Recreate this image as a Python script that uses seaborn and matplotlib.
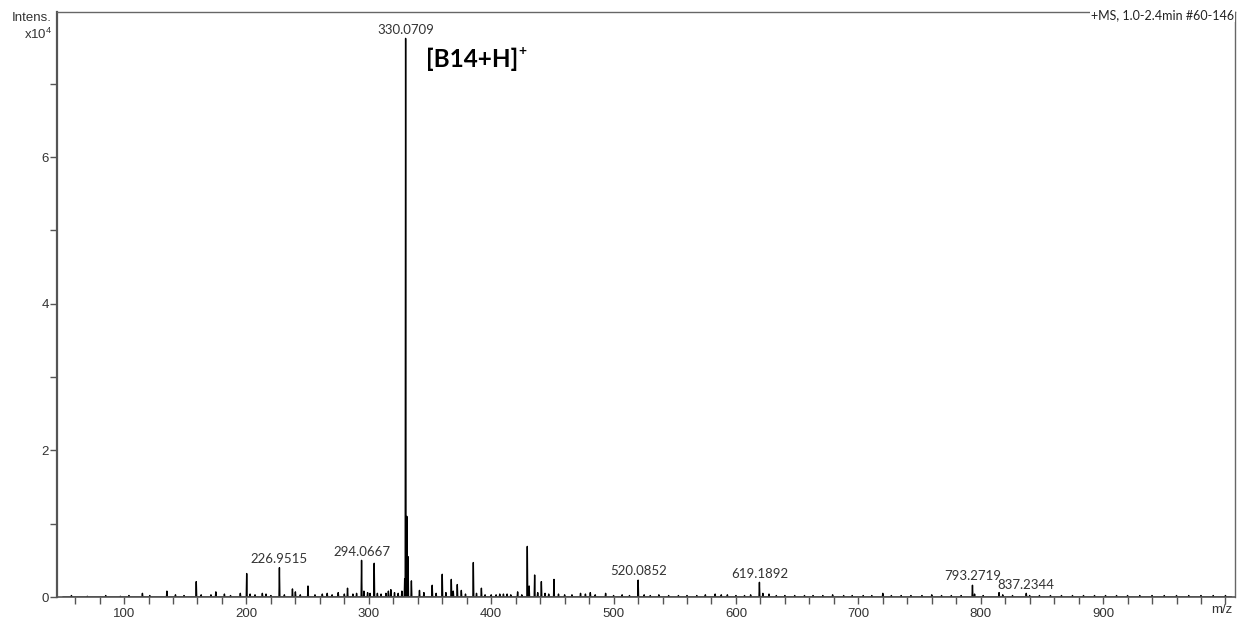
import numpy as np
import pandas as pd
import matplotlib
matplotlib.use("Agg")
import matplotlib.pyplot as plt
from matplotlib.ticker import MultipleLocator, FuncFormatter
import seaborn as sns

sns.set_theme(style="white")
plt.rcParams["font.family"] = ["Liberation Sans", "DejaVu Sans"]
plt.rcParams["mathtext.default"] = "regular"

# Centroided peak list: m/z and intensity (x10^4 counts)
peak_mz = [
    57, 70, 85, 97, 104, 115, 121, 135, 142, 149, 159, 163, 171, 175, 182,
    187, 195, 200.2, 203, 207, 213, 216, 220, 226.9515, 231, 237.6, 240, 244,
    250.3, 256, 262, 266, 270, 275, 280, 282.6, 287, 290, 294.0667, 296, 299,
    301, 304.4, 307, 310, 314, 316, 318, 321, 324, 327, 329.3, 330.0709,
    331.07, 332.07, 334.8, 341.4, 345, 351.8, 355, 360.0, 363, 367.4, 369,
    372.3, 375.6, 379, 385.4, 388, 392.0, 395, 400, 404, 407, 410, 413, 416,
    421.6, 425, 429.5, 431, 435.5, 438, 441.0, 444, 447, 451.3, 455, 460,
    466, 473, 477, 481, 485, 493.5, 500, 507, 513, 520.0852, 525, 530, 537,
    545, 553, 560, 568, 575, 583, 588, 593, 600, 607, 612, 619.1892, 622,
    627, 633, 640, 648, 656, 663, 671, 679, 688, 695, 704, 711, 720, 727,
    735, 743, 752, 760, 768, 776, 784, 793.2719, 795, 802, 815, 818, 826,
    837.2344, 840, 848, 857, 866, 875, 884, 893, 902, 911, 920, 930, 940,
    950, 960, 970, 980, 990, 1000,
]
peak_int = [
    0.02, 0.01, 0.02, 0.01, 0.02, 0.05, 0.02, 0.08, 0.03, 0.02, 0.21, 0.03,
    0.03, 0.07, 0.04, 0.02, 0.05, 0.32, 0.04, 0.03, 0.05, 0.04, 0.02, 0.40,
    0.03, 0.11, 0.07, 0.03, 0.15, 0.03, 0.04, 0.05, 0.03, 0.06, 0.04, 0.12,
    0.04, 0.05, 0.50, 0.08, 0.06, 0.05, 0.46, 0.05, 0.04, 0.05, 0.08, 0.10,
    0.06, 0.05, 0.08, 0.25, 7.62, 1.10, 0.55, 0.22, 0.09, 0.06, 0.16, 0.05,
    0.31, 0.06, 0.24, 0.08, 0.17, 0.09, 0.04, 0.47, 0.05, 0.12, 0.03, 0.03,
    0.03, 0.04, 0.04, 0.04, 0.03, 0.07, 0.03, 0.69, 0.15, 0.30, 0.06, 0.21,
    0.05, 0.04, 0.24, 0.04, 0.03, 0.03, 0.05, 0.04, 0.06, 0.03, 0.05, 0.02,
    0.03, 0.02, 0.23, 0.03, 0.02, 0.03, 0.02, 0.02, 0.02, 0.02, 0.03, 0.04,
    0.03, 0.03, 0.02, 0.02, 0.03, 0.20, 0.05, 0.04, 0.02, 0.02, 0.02, 0.02,
    0.02, 0.02, 0.03, 0.02, 0.02, 0.02, 0.02, 0.05, 0.02, 0.02, 0.02, 0.02,
    0.03, 0.02, 0.02, 0.02, 0.16, 0.04, 0.02, 0.06, 0.03, 0.02, 0.05, 0.02,
    0.02, 0.02, 0.02, 0.02, 0.02, 0.02, 0.02, 0.02, 0.02, 0.02, 0.02, 0.02,
    0.02, 0.02, 0.02, 0.02, 0.02,
]

# Peaks that carry an m/z annotation
label_mz = [226.9515, 294.0667, 330.0709, 520.0852, 619.1892, 793.2719, 837.2344]

ion_label = "[B14+H]"
scan_info = "+MS, 1.0-2.4min #60-146"

# Build the stick trace of the spectrum from the peak list
half_width = 0.35
xs, ys = [50.0], [0.0]
for mz, h in sorted(zip(peak_mz, peak_int)):
    xs += [mz - half_width, mz, mz + half_width]
    ys += [0.0, h, 0.0]
xs.append(1005.0)
ys.append(0.0)
trace = pd.DataFrame({"m/z": xs, "intensity": ys})

W, H = 1241, 620
fig, ax = plt.subplots(figsize=(W / 100, H / 100), dpi=100)
fig.subplots_adjust(left=57 / W, right=1235 / W, bottom=1 - 597 / H, top=1 - 12 / H)

sns.lineplot(data=trace, x="m/z", y="intensity", sort=False, estimator=None,
             color="black", lw=1.0, ax=ax)

ax.set_xlim(45.2, 1007.8)
ax.set_ylim(0, 7.98)
ax.set_xlabel("")
ax.set_ylabel("")

label_color = "#333333"
ax.xaxis.set_major_locator(MultipleLocator(100))
ax.xaxis.set_minor_locator(MultipleLocator(20))
ax.yaxis.set_major_locator(MultipleLocator(2))
ax.yaxis.set_minor_locator(MultipleLocator(1))
ax.xaxis.set_major_formatter(FuncFormatter(
    lambda v, p: f"{v:.0f}" if 100 <= v <= 900 else ""))
ax.tick_params(axis="both", which="both", direction="out", color="#555555",
               width=1.0, labelcolor=label_color, labelsize=9.5)
ax.tick_params(axis="x", which="both", length=5, pad=3, bottom=True)
ax.tick_params(axis="y", which="both", length=5, pad=1, left=True)

for side, lw, col in [("left", 1.6, "#555555"), ("bottom", 1.2, "#555555"),
                      ("top", 1.0, "#666666"), ("right", 1.0, "#666666")]:
    ax.spines[side].set_visible(True)
    ax.spines[side].set_linewidth(lw)
    ax.spines[side].set_color(col)

# m/z annotations above labelled peaks
lookup = dict(zip(peak_mz, peak_int))
for mz in label_mz:
    ax.annotate(f"{mz:.4f}", xy=(mz, lookup[mz]), xytext=(0, 2),
                textcoords="offset points", ha="center", va="bottom",
                fontsize=9.5, family=["Lato", "DejaVu Sans"], color=label_color)

# Ion assignment of the base peak
ion = ax.text(346.5, 7.23, ion_label, ha="left", va="baseline", fontsize=17.5,
              fontweight="bold", family=["Lato", "DejaVu Sans"], color="black")
ax.annotate("+", xy=(1, 1), xycoords=ion, xytext=(0.5, 2),
            textcoords="offset points", ha="left", va="top", fontsize=10,
            fontweight="bold", family=["Lato", "DejaVu Sans"], color="black")

# Axis captions in the instrument style
fig.text(52 / W, 1 - 18 / H, "Intens.", ha="right", va="center",
         fontsize=9.5, color=label_color)
fig.text(52 / W, 1 - 34 / H, "x10$^{4}$", ha="right", va="center",
         fontsize=9.5, color=label_color)
fig.text(1222 / W, 1 - 610 / H, "m/z", ha="center", va="center",
         fontsize=9.5, color=label_color)
fig.text(1234 / W, 1 - 15 / H, scan_info, ha="right", va="center",
         fontsize=9, family=["Lato", "DejaVu Sans"], color="#222222",
         bbox=dict(facecolor="white", edgecolor="none", pad=1.0))

fig.savefig("out.png", dpi=100)
